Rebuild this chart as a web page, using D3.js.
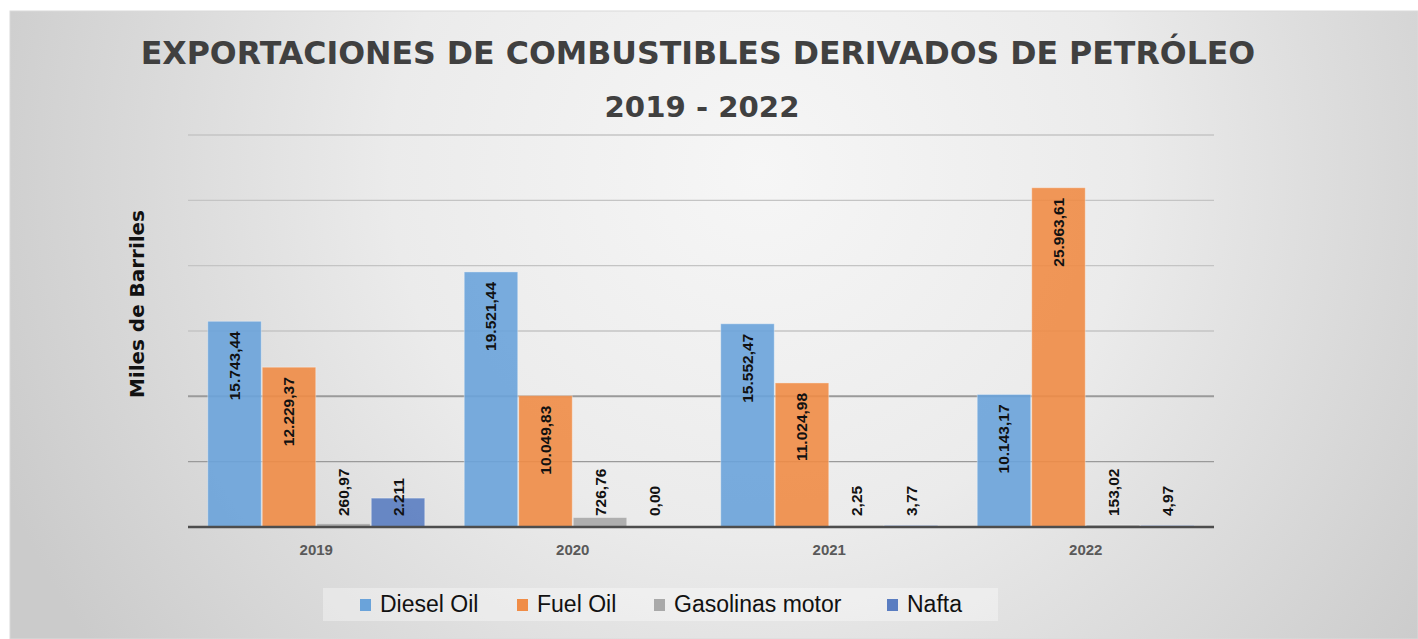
<!DOCTYPE html>
<html>
<head>
<meta charset="utf-8">
<script src="https://cdn.jsdelivr.net/npm/d3@7"></script>
<style>
  body { margin: 0; background: #ffffff; }
  svg { display: block; }
</style>
</head>
<body>
<div id="main"></div>
<script>
// data (miles de barriles)
const years = ['2019', '2020', '2021', '2022']
const seriesNames = ['Diesel Oil', 'Fuel Oil', 'Gasolinas motor', 'Nafta']
const dieselOil = [15743.44, 19521.44, 15552.47, 10143.17]
const fuelOil = [12229.37, 10049.83, 11024.98, 25963.61]
const gasolinas = [260.97, 726.76, 2.25, 153.02]
const nafta = [2211, 0.00, 3.77, 4.97]
const dieselLabels = ['15.743,44', '19.521,44', '15.552,47', '10.143,17']
const fuelLabels = ['12.229,37', '10.049,83', '11.024,98', '25.963,61']
const gasolinaLabels = ['260,97', '726,76', '2,25', '153,02']
const naftaLabels = ['2.211', '0,00', '3,77', '4,97']
const yTicks = [0, 5000, 10000, 15000, 20000, 25000, 30000]

const ctx = {
    w: 1418,
    h: 639,
    left: 188,
    right: 1214,
    top: 135,
    base: 527
}

const colors = ['#6aa3da', '#f08c46', '#a9a9a9', '#5a7dc1']

// shrink / grow a text so that it spans the given width
function fitWidth(sel, width) {
    let fs = +sel.attr('font-size')
    let len = sel.node().getComputedTextLength()
    sel.attr('font-size', fs * width / len)
}

function createViz() {
    let svg = d3.select('#main').append('svg')
        .attr('width', ctx.w)
        .attr('height', ctx.h)

    // background gradient of the chart panel
    let defs = svg.append('defs')
    let grad = defs.append('radialGradient')
        .attr('id', 'bg')
        .attr('gradientUnits', 'userSpaceOnUse')
        .attr('cx', 760).attr('cy', 170).attr('r', 820)
    grad.append('stop').attr('offset', '0%').attr('stop-color', '#f6f6f6')
    grad.append('stop').attr('offset', '45%').attr('stop-color', '#ebebeb')
    grad.append('stop').attr('offset', '100%').attr('stop-color', '#cbcbcb')

    svg.append('rect')
        .attr('x', 10).attr('y', 11)
        .attr('width', ctx.w - 10).attr('height', ctx.h - 11)
        .attr('fill', 'url(#bg)')
        .attr('stroke', '#dadada')
        .attr('stroke-width', 1)

    let series = seriesNames.map((name, i) => ({
        name: name,
        values: [dieselOil, fuelOil, gasolinas, nafta][i],
        labels: [dieselLabels, fuelLabels, gasolinaLabels, naftaLabels][i],
        color: colors[i],
        inside: i < 2
    }))

    let x0 = d3.scaleBand()
        .domain(years)
        .range([ctx.left, ctx.right])
        .paddingInner(0.15)
        .paddingOuter(0.075)
    let x1 = d3.scaleBand()
        .domain(seriesNames)
        .range([0, x0.bandwidth()])
    let y = d3.scaleLinear()
        .domain([0, 30000])
        .range([ctx.base, ctx.top])

    // gridlines
    svg.append('g')
        .selectAll('line')
        .data(yTicks.slice(1))
        .join('line')
        .attr('x1', ctx.left).attr('x2', ctx.right)
        .attr('y1', d => y(d)).attr('y2', d => y(d))
        .attr('stroke', d => (d === 5000 || d === 10000) ? '#9a9a9a' : '#c4c4c4')
        .attr('stroke-width', d => d === 10000 ? 2 : 1.3)

    // bars
    let groups = svg.append('g')
        .selectAll('g')
        .data(series)
        .join('g')
        .attr('fill', s => s.color)

    let minH = d => d.v > 0 ? Math.min(y(d.v), ctx.base - 1.5) : ctx.base
    groups.selectAll('rect')
        .data(s => years.map((yr, j) => ({ yr: yr, v: s.values[j], s: s })))
        .join('rect')
        .attr('x', d => x0(d.yr) + x1(d.s.name) + 0.5)
        .attr('width', x1.bandwidth() - 1)
        .attr('y', d => minH(d))
        .attr('height', d => ctx.base - minH(d))
        .attr('fill-opacity', 0.9)
        .attr('stroke', '#ffffff')
        .attr('stroke-opacity', 0.35)
        .attr('stroke-width', 1)

    // x axis baseline
    svg.append('line')
        .attr('x1', ctx.left).attr('x2', ctx.right)
        .attr('y1', ctx.base).attr('y2', ctx.base)
        .attr('stroke', '#4d4d4d')
        .attr('stroke-width', 2.5)

    // data labels
    groups.selectAll('text')
        .data(s => years.map((yr, j) => ({ yr: yr, v: s.values[j], label: s.labels[j], s: s })))
        .join('text')
        .attr('transform', d => {
            let cx = x0(d.yr) + x1(d.s.name) + x1.bandwidth() / 2
            let cy = d.s.inside ? y(d.v) + 10 : ctx.base - 11
            return `translate(${cx},${cy}) rotate(-90)`
        })
        .attr('text-anchor', d => d.s.inside ? 'end' : 'start')
        .attr('dominant-baseline', 'central')
        .attr('font-family', 'Liberation Sans, Arial, sans-serif')
        .attr('font-weight', 'bold')
        .attr('font-size', 15.5)
        .attr('fill', '#111111')
        .text(d => d.label)

    // category labels
    svg.append('g')
        .selectAll('text')
        .data(years)
        .join('text')
        .attr('x', d => x0(d) + x0.bandwidth() / 2)
        .attr('y', 555)
        .attr('text-anchor', 'middle')
        .attr('font-family', 'Liberation Sans, Arial, sans-serif')
        .attr('font-weight', 'bold')
        .attr('font-size', 15)
        .attr('fill', '#595959')
        .text(d => d)

    // y axis title
    let yt = svg.append('text')
        .attr('transform', 'translate(137,304) rotate(-90)')
        .attr('text-anchor', 'middle')
        .attr('dominant-baseline', 'central')
        .attr('font-family', 'DejaVu Sans, sans-serif')
        .attr('font-weight', 'bold')
        .attr('font-size', 20)
        .attr('fill', '#111111')
        .text('Miles de Barriles')
    fitWidth(yt, 188)

    // title
    let t1 = svg.append('text')
        .attr('x', 698).attr('y', 64)
        .attr('text-anchor', 'middle')
        .attr('font-family', 'DejaVu Sans, sans-serif')
        .attr('font-weight', 'bold')
        .attr('font-size', 29)
        .attr('fill', '#404040')
        .text('EXPORTACIONES DE COMBUSTIBLES DERIVADOS DE PETRÓLEO')
    fitWidth(t1, 1115)

    let t2 = svg.append('text')
        .attr('x', 702).attr('y', 117)
        .attr('text-anchor', 'middle')
        .attr('font-family', 'DejaVu Sans, sans-serif')
        .attr('font-weight', 'bold')
        .attr('font-size', 29)
        .attr('fill', '#404040')
        .text('2019 - 2022')
    fitWidth(t2, 195)

    // legend
    let legend = svg.append('g')
    legend.append('rect')
        .attr('x', 323).attr('y', 588)
        .attr('width', 675).attr('height', 33)
        .attr('fill', '#ffffff')
        .attr('fill-opacity', 0.35)

    let legendX = [360, 517, 654, 887]
    let items = legend.selectAll('g')
        .data(series)
        .join('g')
        .attr('transform', (d, i) => `translate(${legendX[i]},0)`)
    items.append('rect')
        .attr('x', 0).attr('y', 599)
        .attr('width', 11).attr('height', 12)
        .attr('fill', d => d.color)
    items.append('text')
        .attr('x', 20).attr('y', 612)
        .attr('font-family', 'Liberation Sans, Arial, sans-serif')
        .attr('font-size', 23)
        .attr('fill', '#111111')
        .text(d => d.name)
}

createViz()
</script>
</body>
</html>
